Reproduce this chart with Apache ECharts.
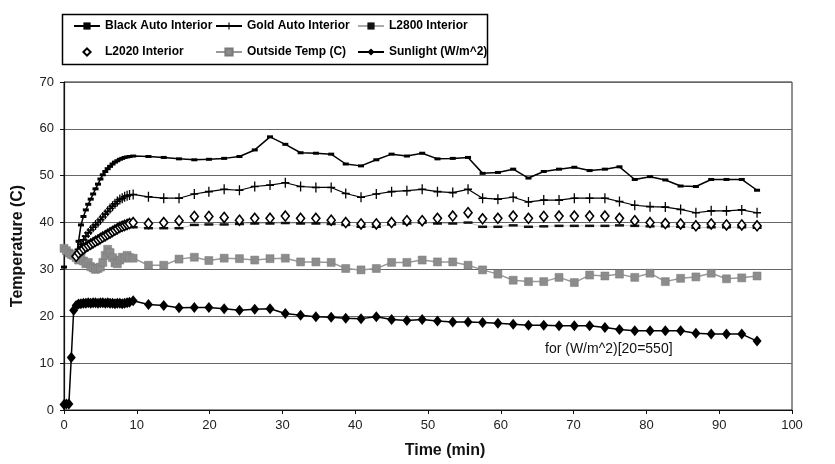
<!DOCTYPE html>
<html>
<head>
<meta charset="utf-8">
<script src="https://cdn.jsdelivr.net/npm/echarts@6/dist/echarts.min.js"></script>
<style>
html,body{margin:0;padding:0;background:#fff;}
#chart{width:835px;height:464px;}
</style>
</head>
<body>
<div id="chart"></div>
<script>
// Time axis (min)
var times = [0,0.33,0.67,1,1.33,1.67,2,2.33,2.67,3,3.33,3.67,4,4.33,4.67,5,5.33,5.67,6,6.33,6.67,7,7.33,7.67,8,8.33,8.67,9,
  9.5,11.6,13.7,15.8,17.9,19.9,22.0,24.1,26.2,28.3,30.4,32.5,34.6,36.7,38.7,40.8,42.9,45.0,47.1,49.2,51.3,53.4,55.5,57.5,
  59.6,61.7,63.8,65.9,68.0,70.1,72.2,74.3,76.3,78.4,80.5,82.6,84.7,86.8,88.9,91.0,93.1,95.2];

var blackAuto = [30.5,null,null,null,null,32.8,36,39.5,41.3,42.7,43.9,45,46.1,47.2,48.2,49.3,50.2,50.9,51.5,52,52.5,52.9,53.2,53.5,53.7,53.9,54.0,54.1,
  54.2,54.1,53.9,53.6,53.4,53.5,53.7,54.1,55.5,58.3,56.7,54.9,54.8,54.6,52.5,52.1,53.4,54.6,54.2,54.8,53.6,53.7,53.9,50.5,
  50.7,51.4,49.5,50.9,51.4,51.8,51.1,51.4,51.9,49.2,49.8,49.1,47.8,47.7,49.2,49.2,49.2,46.9];

var goldAuto = [null,null,null,null,null,32.8,34.3,35.4,36.3,37.1,37.8,38.4,39,39.5,40,40.6,41.2,41.8,42.4,43,43.5,44,44.5,44.9,45.2,45.5,45.7,45.9,
  46.0,45.5,45.2,45.2,46.1,46.6,47.1,46.9,47.7,48.0,48.5,47.7,47.5,47.5,46.2,45.4,46.1,46.6,46.8,47.1,46.6,46.4,47.1,45.2,
  45.0,45.4,44.4,44.8,44.8,45.2,45.2,45.2,44.5,43.7,43.4,43.3,42.8,42.1,42.5,42.5,42.7,42.1];

var l2800 = [null,null,null,null,null,32.8,33.2,33.6,34.0,34.4,34.7,35.0,35.3,35.6,35.9,36.2,36.5,36.8,37.1,37.4,37.7,38.0,38.3,38.6,38.8,39.0,39.1,39.2,
  39.0,38.8,38.8,38.8,39.5,39.6,39.6,39.7,39.8,39.8,39.9,39.8,39.8,39.7,39.5,39.1,39.1,39.6,39.8,40.0,39.8,39.8,40.0,39.1,
  39.1,39.4,39.1,39.2,39.3,39.3,39.3,39.3,39.4,39.3,39.2,39.2,39.1,38.9,39.0,39.0,39.0,38.9];

var l2020 = [null,null,null,null,null,32.8,33.5,34,34.4,34.8,35.1,35.4,35.7,36,36.3,36.6,36.9,37.2,37.5,37.8,38.1,38.4,38.7,39,39.2,39.4,39.6,39.8,
  40.0,39.8,40.0,40.4,41.3,41.3,41.1,40.5,40.9,40.9,41.4,40.9,40.9,40.5,40.0,39.7,39.7,40.0,40.4,40.4,40.9,41.4,42.1,40.8,
  40.9,41.4,40.9,41.3,41.4,41.4,41.4,41.4,40.9,40.4,40.0,39.8,39.7,39.3,39.7,39.5,39.5,39.3];

var outsideTemp = [34.5,34,33.5,33.2,33,32.5,32,32.8,31.8,31.2,31.5,30.6,30.3,30,30.2,30.5,31.5,33,34.3,33.6,32.5,31.4,31.2,32,32.6,32.4,33,32.5,
  32.4,30.9,30.9,32.2,32.6,31.9,32.4,32.3,32.0,32.3,32.4,31.6,31.6,31.5,30.2,29.9,30.2,31.5,31.5,32.0,31.6,31.6,30.9,29.9,
  29.0,27.7,27.4,27.4,28.3,27.2,28.8,28.6,29.0,28.3,29.2,27.4,28.1,28.4,29.2,28.0,28.2,28.6];

var sunlight = [1.2,1.3,1.3,11.2,21.3,22.3,22.6,22.7,22.8,22.8,22.9,22.8,22.9,22.9,22.8,22.9,22.9,22.8,22.9,22.8,22.8,22.7,22.8,22.8,22.7,22.8,22.9,23.0,
  23.3,22.5,22.3,21.8,21.9,21.9,21.6,21.3,21.5,21.6,20.6,20.2,19.9,19.8,19.6,19.5,19.9,19.3,19.1,19.3,19.0,18.8,18.8,18.7,
  18.5,18.3,18.1,18.1,18.0,18.0,18.0,17.6,17.2,16.9,16.9,16.9,16.9,16.4,16.2,16.2,16.2,14.7];

var seriesNames = ['Black Auto Interior','Gold Auto Interior','L2800 Interior','L2020 Interior','Outside Temp (C)','Sunlight (W/m^2)'];
var xTicks = {min:0, max:100, step:10};
var yTicks = {min:0, max:70, step:10};
var noteText = 'for (W/m^2)[20=550]';

function pairs(arr){ return times.map(function(t,i){ return [t, arr[i]]; }); }

var FONT = "'Liberation Sans', Arial, sans-serif";
var plusPath = 'path://M4.2,0H5.8V4.2H10V5.8H5.8V10H4.2V5.8H0V4.2H4.2Z';

var chart = echarts.init(document.getElementById('chart'), null, {renderer:'canvas'});
var legendBase = {
  orient:'vertical', top:13, itemGap:10, itemWidth:26, itemHeight:9,
  textStyle:{fontFamily:FONT, fontWeight:'bold', fontSize:12, color:'#000', lineHeight:16},
  selectedMode:false
};
chart.setOption({
  animation:false,
  backgroundColor:'#fff',
  grid:{left:64, right:43, top:82, bottom:54, show:true, borderColor:'#222', borderWidth:1},
  legend:[
    Object.assign({}, legendBase, {left:68, data:[seriesNames[0], seriesNames[3]]}),
    Object.assign({}, legendBase, {left:210, data:[seriesNames[1], seriesNames[4]]}),
    Object.assign({}, legendBase, {left:352, data:[seriesNames[2], seriesNames[5]]})
  ],
  graphic:[
    {type:'rect', left:60, top:12, shape:{width:425, height:50}, style:{fill:'none', stroke:'#000', lineWidth:1.5}, silent:true},
    {type:'text', left:545, top:342, style:{text:noteText, fontFamily:FONT, fontSize:14, fill:'#111'}}
  ],
  xAxis:{
    type:'value', min:xTicks.min, max:xTicks.max, interval:xTicks.step,
    name:'Time (min)', nameLocation:'middle', nameGap:33,
    nameTextStyle:{fontFamily:FONT, fontWeight:'bold', fontSize:16, color:'#111', padding:[0,0,0,34]},
    axisLine:{lineStyle:{color:'#111', width:1.2}},
    axisTick:{show:true, length:4, lineStyle:{color:'#111'}},
    axisLabel:{fontFamily:FONT, fontSize:13, color:'#222', margin:9},
    splitLine:{show:false}
  },
  yAxis:{
    type:'value', min:yTicks.min, max:yTicks.max, interval:yTicks.step,
    name:'Temperature (C)', nameLocation:'middle', nameGap:38, nameRotate:90,
    nameTextStyle:{fontFamily:FONT, fontWeight:'bold', fontSize:16, color:'#111'},
    axisLine:{show:true, lineStyle:{color:'#111', width:1.2}},
    axisTick:{show:true, length:4, lineStyle:{color:'#111'}},
    axisLabel:{fontFamily:FONT, fontSize:13, color:'#222', margin:10},
    splitLine:{show:true, lineStyle:{color:'#666', width:1}}
  },
  series:[
    {name:seriesNames[0], type:'line', data:pairs(blackAuto), z:5,
     symbol:'rect', symbolSize:[6,3], showSymbol:true, showAllSymbol:true,
     lineStyle:{color:'#000', width:1.5}, itemStyle:{color:'#000'}},
    {name:seriesNames[1], type:'line', data:pairs(goldAuto), z:5,
     symbol:plusPath, symbolSize:[8,10], showAllSymbol:true,
     lineStyle:{color:'#000', width:1.2}, itemStyle:{color:'#000'}},
    {name:seriesNames[2], type:'line', data:pairs(l2800), z:4,
     symbol:'rect', symbolSize:[9,2.5], showAllSymbol:true,
     lineStyle:{color:'#aaa', width:0.6}, itemStyle:{color:'#111'}},
    {name:seriesNames[3], type:'line', data:pairs(l2020), z:6,
     symbol:'diamond', symbolSize:[8,10], showAllSymbol:true,
     lineStyle:{width:0, color:'#000'}, itemStyle:{color:'#fff', borderColor:'#000', borderWidth:1.6}},
    {name:seriesNames[4], type:'line', data:pairs(outsideTemp), z:3,
     symbol:'rect', symbolSize:8, showAllSymbol:true,
     lineStyle:{color:'#999', width:1.5}, itemStyle:{color:'#8c8c8c', borderColor:'#7a7a7a', borderWidth:0.5}},
    {name:seriesNames[5], type:'line', data:pairs(sunlight), z:5,
     symbol:'diamond', symbolSize:[9,11], showAllSymbol:true,
     lineStyle:{color:'#000', width:1.5}, itemStyle:{color:'#000'}}
  ]
});
</script>
</body>
</html>
